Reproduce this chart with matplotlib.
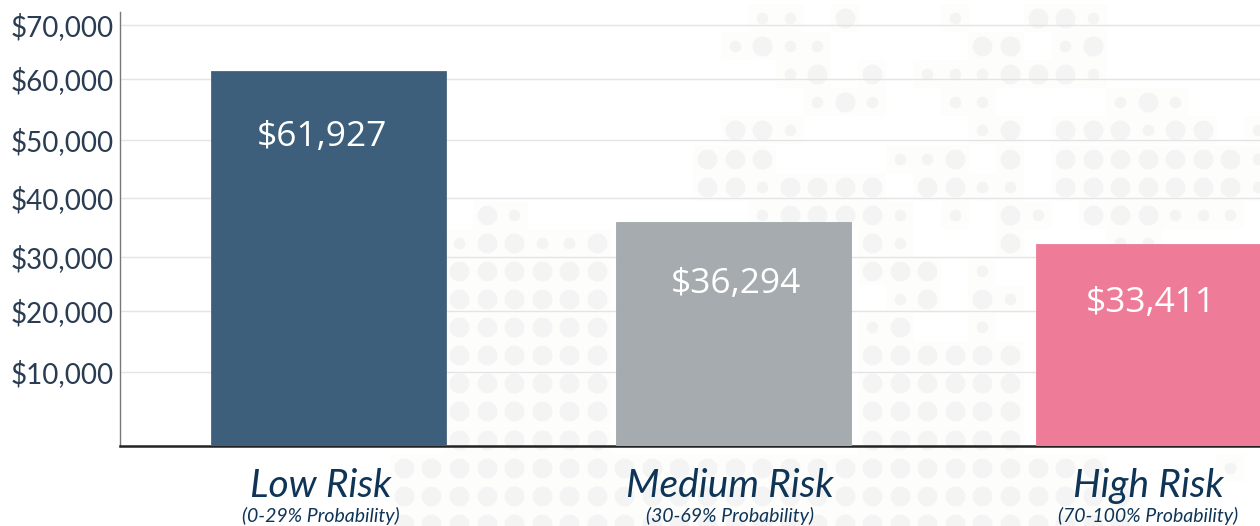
#!/usr/bin/env python3
import matplotlib
matplotlib.use("Agg")
import matplotlib.pyplot as plt
import numpy as np

# bars
categories = ["Low Risk", "Medium Risk", "High Risk"]
probabilities = ["(0-29% Probability)", "(30-69% Probability)", "(70-100% Probability)"]
values = [61927, 36294, 33411]
value_labels = ["$61,927", "$36,294", "$33,411"]
bar_colors = ["#3d5f7b", "#a5abae", "#ee7c98"]
bar_edges = ["#4a667d", "#a1a8aa", "#ee7a97"]
tick_values = [10000, 20000, 30000, 40000, 50000, 60000, 70000]
tick_labels = ["$10,000", "$20,000", "$30,000", "$40,000", "$50,000", "$60,000", "$70,000"]

# layout in pixels of the 1260x526 canvas
BAR_CENTERS = [328, 733.5, 1153]
BAR_WIDTH = 235
LABEL_CENTERS = [321, 730, 1148]
VALUE_CENTERS = [322, 736, 1151]
VALUE_DROP = [66, 62, 59]
# the picture's axis is not linear, so the y scale follows these pairs
SCALE_VALUES = [0, 10000, 20000, 30000, 33411, 36294, 40000, 50000, 60000, 61927, 70000, 72400]
SCALE_PIXELS = [446, 372, 311, 257, 244, 222, 198, 140, 79, 71, 25, 12]

# background map: row -> columns of whole dots / clipped dots
MAP_FULL = {
    0: [14, 21, 22],
    1: [11, 19, 20, 23],
    2: [13, 15, 20, 21, 22],
    3: [14, 25],
    4: [10, 11, 20, 22, 23, 24, 26, 27],
    5: [9, 10, 11, 18, 20, 22, 23, 24, 25, 26, 27, 28],
    6: [9, 10, 12, 13, 14, 15, 17, 18, 22, 23, 24, 25, 26, 27, 28],
    7: [1, 12, 13, 14, 15, 20, 23, 24, 25],
    8: [1, 2, 5, 15, 20],
    9: [0, 1, 2, 3, 4, 5, 15, 16, 17],
    10: [0, 1, 2, 3, 4, 5, 17, 19],
    11: [0, 1, 2, 3, 4, 5, 16],
    12: [0, 1, 2, 3, 4, 5, 15, 16, 17, 18, 19, 20],
    13: [0, 1, 2, 3, 4, 5, 15, 16, 17, 18, 19, 20],
    14: [0, 1, 2, 3, 4, 5, 15, 16, 17, 18, 19, 20],
    15: [0, 1, 2, 3, 4, 5, 15, 16, 17, 18, 19, 20],
    16: list(range(-2, 24)),
    17: list(range(-2, 25)),
    18: list(range(-2, 25)),
}
MAP_CLIPPED = {
    0: [11, 12, 18, 23],
    1: [10, 12, 13, 22],
    2: [12, 17, 18, 19, 23],
    3: [13, 15, 18, 19, 24, 26],
    4: [12, 19, 25, 29],
    5: [16, 17, 29],
    6: [11, 19, 20, 29],
    7: [2, 11, 16, 18, 21, 26, 27, 28],
    8: [0, 3, 4, 16, 24, 25],
    9: [19],
    10: [16, 20],
    11: [15, 19],
    16: [28],
}


def to_pixels(v):
    return -np.interp(v, SCALE_VALUES, SCALE_PIXELS)


def from_pixels(p):
    return np.interp(-np.asarray(p), SCALE_PIXELS[::-1], SCALE_VALUES[::-1])


def draw_map(fig):
    bg = fig.add_axes([0, 0, 1, 1], zorder=0)
    bg.set_xlim(0, 1260)
    bg.set_ylim(526, 0)
    bg.axis("off")
    for rows, dot_size in ((MAP_FULL, 205), (MAP_CLIPPED, 70)):
        xs = [459 + 27.55 * c for r, cols in rows.items() for c in cols]
        ys = [18 + 28.1 * r for r, cols in rows.items() for c in cols]
        bg.scatter(xs, ys, s=420, marker="s", color="#fdfdfc", linewidths=0, zorder=1)
    for rows, dot_size in ((MAP_FULL, 205), (MAP_CLIPPED, 70)):
        xs = [459 + 27.55 * c for r, cols in rows.items() for c in cols]
        ys = [18 + 28.1 * r for r, cols in rows.items() for c in cols]
        bg.scatter(xs, ys, s=dot_size, color="#f4f4f4", linewidths=0, zorder=2)


def main():
    fig = plt.figure(figsize=(12.6, 5.26), dpi=100)
    fig.patch.set_facecolor("white")
    draw_map(fig)

    ax = fig.add_axes([120 / 1260, 1 - 446 / 526, 1140 / 1260, 434 / 526], zorder=1)
    ax.patch.set_alpha(0)
    ax.set_xlim(120, 1260)
    ax.set_yscale("function", functions=(to_pixels, from_pixels))
    ax.set_ylim(0, 72400)

    ax.yaxis.grid(True, color="#e4e4e7", linewidth=1.0, zorder=1)
    ax.set_axisbelow(True)
    ax.bar(BAR_CENTERS, values, width=BAR_WIDTH, color=bar_colors, edgecolor=bar_edges,
           linewidth=0.6, zorder=3)

    ax.set_xticks([])
    ax.set_yticks(tick_values)
    ax.set_yticklabels(tick_labels, fontfamily="Lato", fontsize=20, color="#2a3c52", ha="left")
    ax.minorticks_off()
    ax.tick_params(axis="y", length=0, pad=79)

    for side in ("top", "right"):
        ax.spines[side].set_visible(False)
    ax.spines["left"].set_color("#777777")
    ax.spines["left"].set_linewidth(1)
    ax.spines["bottom"].set_color("#222222")
    ax.spines["bottom"].set_linewidth(1.8)

    for i, value in enumerate(values):
        ax.annotate(value_labels[i], (VALUE_CENTERS[i], value), xytext=(0, -VALUE_DROP[i] * 0.72),
                    textcoords="offset points", ha="center", va="center", color="white",
                    fontfamily="Open Sans", fontsize=25.5, zorder=4)
        ax.annotate(categories[i], (LABEL_CENTERS[i], 0), xytext=(0, -29),
                    textcoords="offset points", ha="center", va="center", color="#0e3557",
                    fontfamily="Lato", style="italic", fontsize=28, annotation_clip=False)
        ax.annotate(probabilities[i], (LABEL_CENTERS[i], 0), xytext=(0, -50.5),
                    textcoords="offset points", ha="center", va="center", color="#0e3557",
                    fontfamily="Lato", style="italic", fontsize=14, annotation_clip=False)

    fig.savefig("out.png", dpi=100)
    plt.close(fig)


if __name__ == "__main__":
    main()
